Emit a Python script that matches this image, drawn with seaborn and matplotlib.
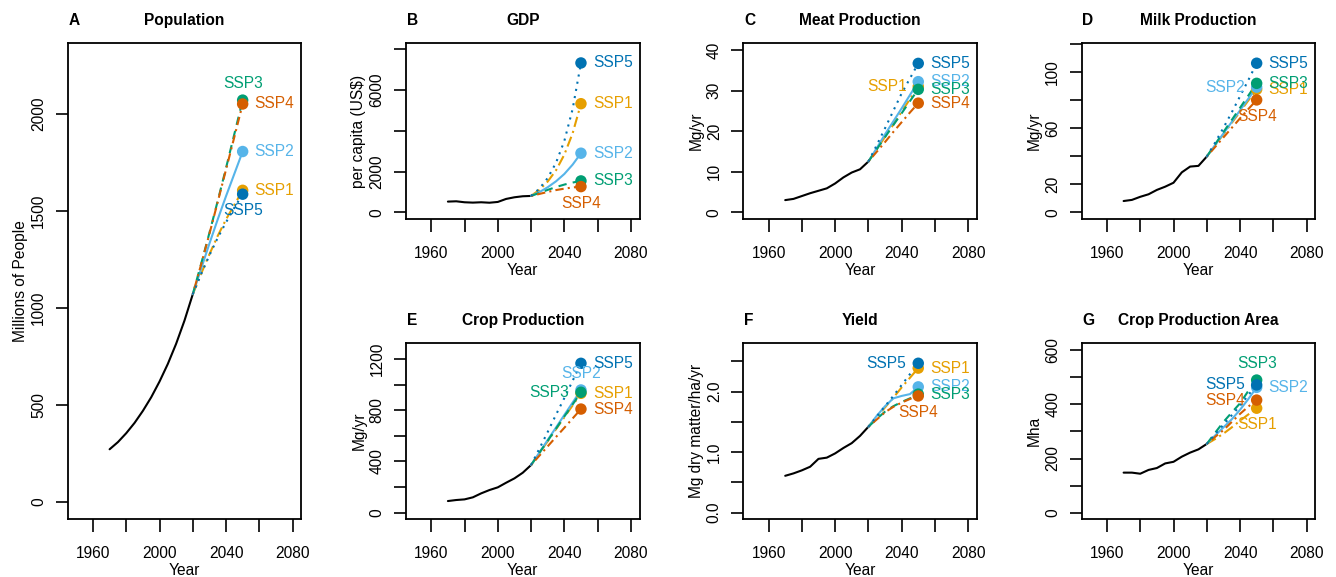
import matplotlib
matplotlib.use("Agg")
import matplotlib.pyplot as plt
import seaborn as sns
import pandas as pd

# ---------------- data ----------------
hist_years = [1970, 1975, 1980, 1985, 1990, 1995, 2000, 2005, 2010, 2015, 2020]
proj_years = [2020, 2025, 2030, 2035, 2040, 2045, 2050]
scenarios = ["SSP1", "SSP2", "SSP3", "SSP4", "SSP5"]

pop_hist = [270, 307, 353, 406, 468, 538, 619, 710, 814, 933, 1069]
pop_proj = {
    "SSP1": [1069, 1175, 1275, 1370, 1455, 1530, 1605],
    "SSP2": [1069, 1200, 1330, 1455, 1575, 1690, 1805],
    "SSP3": [1069, 1225, 1385, 1550, 1720, 1895, 2070],
    "SSP4": [1069, 1222, 1380, 1545, 1712, 1880, 2050],
    "SSP5": [1069, 1172, 1270, 1360, 1440, 1515, 1585],
}

gdp_hist = [525, 540, 492, 475, 492, 470, 508, 656, 737, 787, 803]
gdp_proj = {
    "SSP1": [803, 1100, 1510, 2060, 2830, 3880, 5330],
    "SSP2": [803, 990, 1230, 1520, 1880, 2340, 2900],
    "SSP3": [803, 950, 1100, 1240, 1360, 1460, 1540],
    "SSP4": [803, 900, 1000, 1090, 1160, 1220, 1260],
    "SSP5": [803, 1160, 1680, 2430, 3500, 5070, 7330],
}

meat_hist = [3.0, 3.3, 4.0, 4.7, 5.3, 5.9, 7.1, 8.6, 9.8, 10.6, 12.5]
meat_proj = {
    "SSP1": [12.5, 15.5, 18.6, 21.6, 24.8, 27.9, 31.0],
    "SSP2": [12.5, 15.8, 19.2, 22.4, 25.6, 28.9, 32.2],
    "SSP3": [12.5, 15.5, 18.5, 21.5, 24.4, 27.4, 30.3],
    "SSP4": [12.5, 14.9, 17.3, 19.8, 22.2, 24.6, 26.9],
    "SSP5": [12.5, 16.5, 20.7, 25.0, 29.3, 33.0, 36.7],
}

milk_hist = [8.0, 8.8, 11.0, 12.8, 15.9, 18.2, 21.0, 28.4, 32.5, 33.0, 39.6]
milk_proj = {
    "SSP1": [39.6, 47.5, 55.5, 63.5, 71.5, 79.5, 87.4],
    "SSP2": [39.6, 47.8, 56.0, 64.2, 72.5, 80.8, 89.0],
    "SSP3": [39.6, 48.3, 57.0, 65.6, 74.3, 83.0, 91.7],
    "SSP4": [39.6, 46.4, 53.2, 60.0, 66.8, 73.4, 79.9],
    "SSP5": [39.6, 49.5, 60.0, 71.0, 82.5, 94.0, 106.0],
}

crop_hist = [91, 99, 104, 120, 151, 177, 198, 234, 268, 312, 372]
crop_proj = {
    "SSP1": [372, 465, 558, 652, 745, 838, 932],
    "SSP2": [372, 470, 568, 665, 763, 860, 958],
    "SSP3": [372, 467, 561, 656, 751, 845, 940],
    "SSP4": [372, 445, 518, 591, 663, 736, 809],
    "SSP5": [372, 500, 630, 765, 895, 1030, 1166],
}

yield_hist = [0.61, 0.65, 0.70, 0.76, 0.89, 0.91, 0.98, 1.07, 1.15, 1.27, 1.42]
yield_proj = {
    "SSP1": [1.42, 1.58, 1.74, 1.90, 2.07, 2.23, 2.39],
    "SSP2": [1.42, 1.60, 1.76, 1.89, 1.93, 1.96, 2.08],
    "SSP3": [1.42, 1.55, 1.67, 1.76, 1.83, 1.89, 1.96],
    "SSP4": [1.42, 1.54, 1.66, 1.75, 1.82, 1.88, 1.93],
    "SSP5": [1.42, 1.59, 1.76, 1.93, 2.11, 2.29, 2.47],
}

area_hist = [148, 148, 144, 158, 165, 182, 188, 207, 222, 234, 254]
area_proj = {
    "SSP1": [254, 272, 292, 315, 340, 363, 386],
    "SSP2": [254, 285, 315, 345, 380, 420, 463],
    "SSP3": [254, 295, 335, 370, 404, 450, 490],
    "SSP4": [254, 280, 305, 335, 365, 392, 416],
    "SSP5": [254, 290, 325, 360, 395, 435, 472],
}

x_ticks = [1960, 1980, 2000, 2020, 2040, 2060, 2080]
x_ticklabels = ["1960", "", "2000", "", "2040", "", "2080"]

# ---------------- style ----------------
sns.set_style("white")
plt.rcParams["font.family"] = ["Liberation Sans", "DejaVu Sans"]
plt.rcParams["text.color"] = "black"
plt.rcParams["axes.labelcolor"] = "black"
plt.rcParams["xtick.color"] = "black"
plt.rcParams["ytick.color"] = "black"
plt.rcParams["axes.edgecolor"] = "black"
FS = 11.2

colors = {"SSP1": "#E69F00", "SSP2": "#56B4E9", "SSP3": "#009E73",
          "SSP4": "#D55E00", "SSP5": "#0072B2"}
linestyles = {"SSP1": (0, (5, 2, 1, 2)), "SSP2": "-", "SSP3": (0, (4, 3)),
              "SSP4": (0, (1, 2, 4, 2)), "SSP5": (0, (1, 2.5))}

W, H = 1336, 577
fig = plt.figure(figsize=(W / 100, H / 100), dpi=100)

col_left = {"A": 67.7, "B": 406.0, "C": 743.3, "D": 1081.7, "E": 406.0, "F": 743.3, "G": 1081.7}
box_w = 233.5
row_top = {"A": 42.7, "B": 42.7, "C": 42.7, "D": 42.7, "E": 342.7, "F": 342.7, "G": 342.7}
row_bot = {"A": 519.3, "B": 219.3, "C": 219.3, "D": 219.3, "E": 519.3, "F": 519.3, "G": 519.3}

label_off = {"r": ((8.5, 0), "left", "center"), "l": ((-8.5, 0), "right", "center"),
             "t": ((0, 12), "center", "center"), "b": ((0, -12), "center", "center")}

panels = [
    ("A", "Population", "Millions of People", pop_hist, pop_proj,
     [0, 500, 1000, 1500, 2000], ["0", "500", "1000", "1500", "2000"], (-91, 2366),
     {"SSP1": "r", "SSP2": "r", "SSP3": "t", "SSP4": "r", "SSP5": "b"}),
    ("B", "GDP", "per capita (US$)", gdp_hist, gdp_proj,
     [0, 2000, 4000, 6000, 8000], ["0", "2000", "", "6000", ""], (-344, 8324),
     {"SSP1": "r", "SSP2": "r", "SSP3": "r", "SSP4": "b", "SSP5": "r"}),
    ("C", "Meat Production", "Mg/yr", meat_hist, meat_proj,
     [0, 10, 20, 30, 40], ["0", "10", "20", "30", "40"], (-1.73, 41.8),
     {"SSP1": "l", "SSP2": "r", "SSP3": "r", "SSP4": "r", "SSP5": "r"}),
    ("D", "Milk Production", "Mg/yr", milk_hist, milk_proj,
     [0, 20, 40, 60, 80, 100, 120], ["0", "20", "", "60", "", "100", ""], (-5.0, 120.6),
     {"SSP1": "r", "SSP2": "l", "SSP3": "r", "SSP4": "b", "SSP5": "r"}),
    ("E", "Crop Production", "Mg/yr", crop_hist, crop_proj,
     [0, 200, 400, 600, 800, 1000, 1200], ["0", "", "400", "", "800", "", "1200"], (-51.5, 1327),
     {"SSP1": "r", "SSP2": "t", "SSP3": "l", "SSP4": "r", "SSP5": "r"}),
    ("F", "Yield", "Mg dry matter/ha/yr", yield_hist, yield_proj,
     [0.0, 0.5, 1.0, 1.5, 2.0, 2.5], ["0.0", "", "1.0", "", "2.0", ""], (-0.109, 2.81),
     {"SSP1": "r", "SSP2": "r", "SSP3": "r", "SSP4": "b", "SSP5": "l"}),
    ("G", "Crop Production Area", "Mha", area_hist, area_proj,
     [0, 100, 200, 300, 400, 500, 600], ["0", "", "200", "", "400", "", "600"], (-24.4, 628),
     {"SSP1": "b", "SSP2": "r", "SSP3": "t", "SSP4": "l", "SSP5": "l"}),
]

for letter, title, ylabel, hist, proj, yt, ytl, ylim, lpos in panels:
    left, top, bot = col_left[letter], row_top[letter], row_bot[letter]
    hpx = bot - top
    ax = fig.add_axes([left / W, 1 - bot / H, box_w / W, hpx / H])

    hist_df = pd.DataFrame({"Year": hist_years, "value": hist})
    sns.lineplot(data=hist_df, x="Year", y="value", color="black", lw=1.5,
                 estimator=None, errorbar=None, ax=ax)
    for s in scenarios:
        df = pd.DataFrame({"Year": proj_years, "value": proj[s]})
        sns.lineplot(data=df, x="Year", y="value", color=colors[s], lw=1.5,
                     linestyle=linestyles[s], estimator=None, errorbar=None, ax=ax)
    for s in scenarios:
        end = pd.DataFrame({"Year": [proj_years[-1]], "value": [proj[s][-1]]})
        sns.scatterplot(data=end, x="Year", y="value", color=colors[s], s=68,
                        edgecolor="none", linewidth=0, ax=ax, zorder=5)
    for s in scenarios:
        (dx, dy), ha, va = label_off[lpos[s]]
        ax.annotate(s, xy=(proj_years[-1], proj[s][-1]), xytext=(dx, dy),
                    textcoords="offset points", ha=ha, va=va, color=colors[s],
                    fontsize=FS, zorder=6)

    ax.set_xlim(1944.8, 2085.2)
    ax.set_ylim(*ylim)
    ax.set_xticks(x_ticks)
    ax.set_xticklabels(x_ticklabels, fontsize=FS)
    ax.set_yticks(yt)
    ax.set_yticklabels(ytl, fontsize=FS, rotation=90, va="center")
    ax.tick_params(axis="both", direction="out", length=9, width=1.2, color="black",
                   labelcolor="black", left=True, bottom=True, top=False, right=False)
    ax.tick_params(axis="x", pad=10)
    ax.tick_params(axis="y", pad=6.5)
    for sp in ax.spines.values():
        sp.set_visible(True)
        sp.set_color("black")
        sp.set_linewidth(1.3)

    ax.set_xlabel("Year", fontsize=FS, color="black")
    ax.xaxis.label.set_va("baseline")
    ax.xaxis.set_label_coords(0.5, -56 / hpx)
    ax.set_ylabel(ylabel, fontsize=FS, color="black")
    ax.yaxis.label.set_va("baseline")
    ax.yaxis.set_label_coords(-42.5 / box_w, 0.5)

    ax.annotate(title, xy=(0.5, 1), xycoords="axes fraction", xytext=(0, 12.7),
                textcoords="offset points", ha="center", va="baseline",
                fontsize=FS, fontweight="bold", color="black")
    ax.annotate(letter, xy=(0, 1), xycoords="axes fraction", xytext=(0.5, 12.7),
                textcoords="offset points", ha="left", va="baseline",
                fontsize=FS, fontweight="bold", color="black")

fig.savefig("out.png", dpi=100)
